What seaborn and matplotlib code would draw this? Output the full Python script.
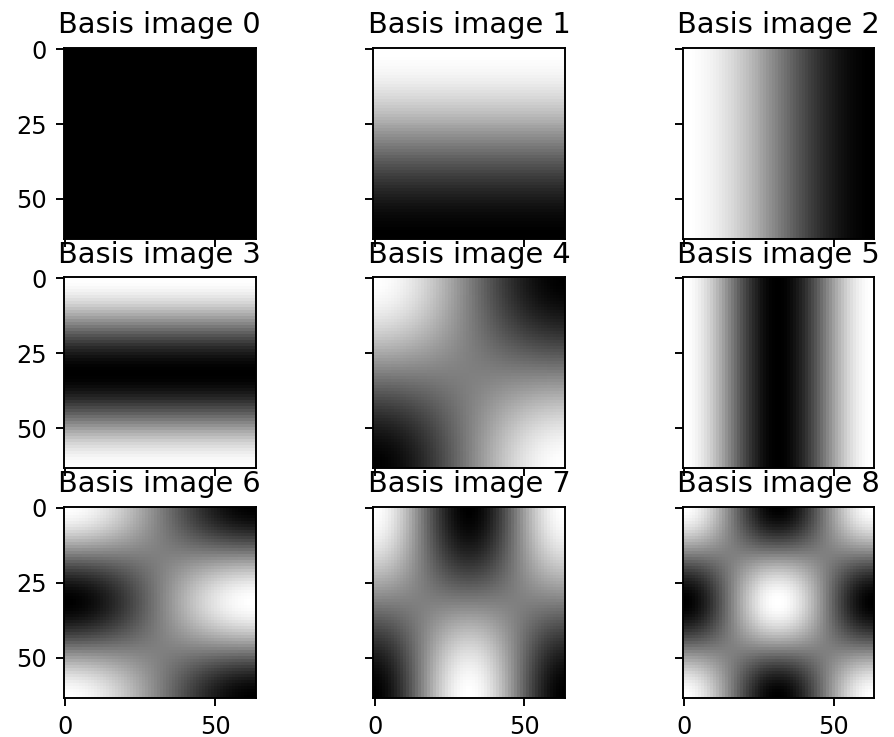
import numpy as np
import pandas as pd
import matplotlib
matplotlib.use("Agg")
import matplotlib.pyplot as plt
import seaborn as sns

# ---- data ----
titles = [f"Basis image {k}" for k in range(9)]
row_freqs = [0, 1, 0, 2, 1, 0, 2, 1, 2]   # vertical cosine frequency of each basis image
col_freqs = [0, 0, 1, 0, 1, 2, 1, 2, 2]   # horizontal cosine frequency of each basis image
image_size = 64
x_tick_values = [0, 50]
y_tick_values = [0, 25, 50]

DPI = 173
W, H = 894, 737
fig = plt.figure(figsize=(W / DPI, H / DPI), dpi=DPI)

col_left_px = [64.0, 373.3, 682.7]
row_top_px = [47.7, 277.0, 506.5]
size_px = 191.5

n = np.arange(image_size)
for k in range(9):
    r, c = divmod(k, 3)
    left = col_left_px[c] / W
    bottom = (H - row_top_px[r] - size_px) / H
    ax = fig.add_axes([left, bottom, size_px / W, size_px / H])
    u, v = row_freqs[k], col_freqs[k]
    rows = np.cos(np.pi * (2 * n + 1) * u / (2 * image_size))
    cols = np.cos(np.pi * (2 * n + 1) * v / (2 * image_size))
    img = pd.DataFrame(np.outer(rows, cols))
    vmin, vmax = img.values.min(), img.values.max()
    sns.heatmap(img, ax=ax, cmap="gray", cbar=False, vmin=vmin, vmax=vmax,
                xticklabels=False, yticklabels=False)
    for s in ax.spines.values():
        s.set_visible(True)
        s.set_linewidth(0.8)
        s.set_color("black")
    ax.set_xticks([t + 0.5 for t in x_tick_values],
                  labels=[str(t) for t in x_tick_values])
    ax.set_yticks([t + 0.5 for t in y_tick_values],
                  labels=[str(t) for t in y_tick_values], rotation=0)
    ax.tick_params(axis="both", which="major", length=3.5, width=0.8,
                   labelsize=10, direction="out", color="black")
    ax.tick_params(labelleft=(c == 0), labelbottom=(r == 2))
    ax.set_xlabel("")
    ax.set_ylabel("")
    ax.set_title(titles[k], fontsize=12)

fig.savefig("out.png", dpi=DPI)
